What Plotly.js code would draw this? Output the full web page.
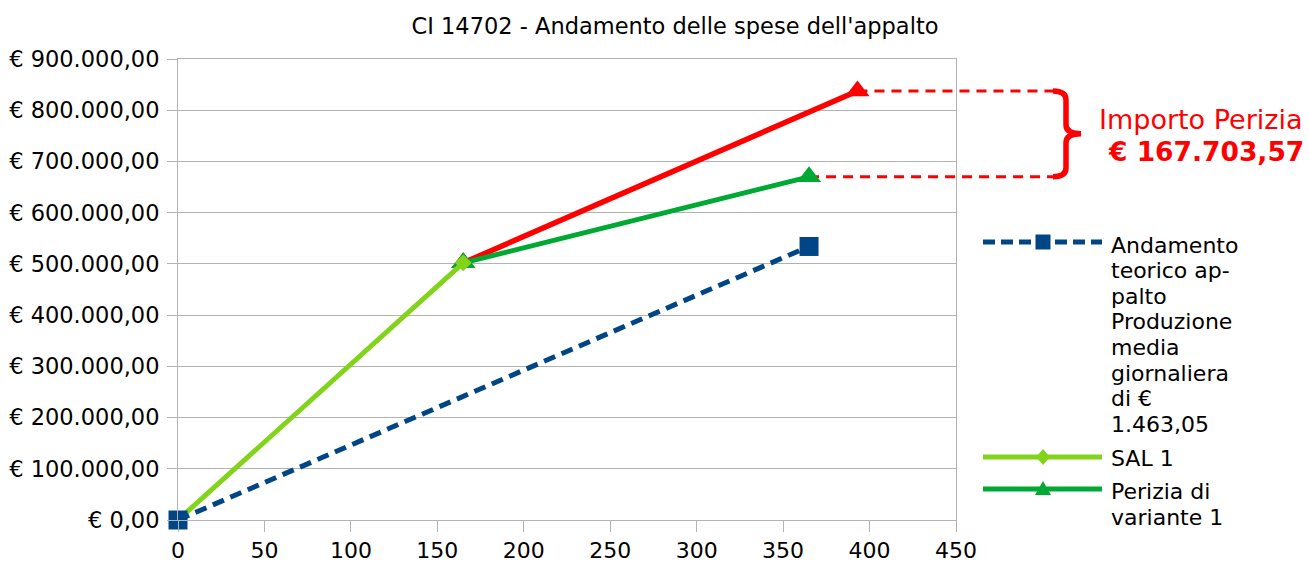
<!DOCTYPE html>
<html>
<head>
<meta charset="utf-8">
<script src="https://cdn.plot.ly/plotly-3.0.1.min.js"></script>
<style>html,body{margin:0;padding:0;background:#fff;}#chart{width:1309px;height:562px;}</style>
</head>
<body>
<div id="chart"></div>
<script>
// ---- data ----
const titolo = "CI 14702 - Andamento delle spese dell'appalto";
const giorniTeorico = [0, 365];
const speseTeorico = [0, 534013.25];
const giorniSAL = [0, 165];
const speseSAL = [0, 502000];
const giorniPerizia = [165, 365];
const spesePerizia = [502000, 670000];
const giorniImporto = [165, 393];
const speseImporto = [502000, 837703.57];
const legendaTeorico = ["Andamento", "teorico ap-", "palto", "Produzione", "media", "giornaliera", "di €", "1.463,05"];
const legendaSAL = ["SAL 1"];
const legendaPerizia = ["Perizia di", "variante 1"];
const testoImporto = "Importo Perizia";
const valoreImporto = "€ 167.703,57";

// ---- layout geometry ----
const W = 1309, H = 562;
const PL = 178, PR = 956, PT = 59, PB = 520;
const X_MAX = 450, Y_MAX = 900000;
const FONT = "DejaVu Sans, Verdana, sans-serif";
const px = v => (v - PL) / (PR - PL);
const py = v => (PB - v) / (PB - PT);
const kY = Y_MAX / (PB - PT); // data units per pixel

const BLUE = "#004586", LIME = "#81d41a", GREEN = "#00a933", RED = "#ff0000";

const traces = [
  {x: giorniImporto, y: speseImporto, mode: "lines+markers", line: {color: RED, width: 5.5},
   marker: {symbol: "triangle-up", size: 21, color: RED}, cliponaxis: false, showlegend: false, hoverinfo: "skip"},
  {x: giorniPerizia, y: spesePerizia, mode: "lines+markers", line: {color: GREEN, width: 5},
   marker: {symbol: "triangle-up", size: 21, color: GREEN}, cliponaxis: false, showlegend: false, hoverinfo: "skip"},
  {x: giorniSAL, y: speseSAL, mode: "lines+markers", line: {color: LIME, width: 5},
   marker: {symbol: "diamond", size: 13, color: LIME}, cliponaxis: false, showlegend: false, hoverinfo: "skip"},
  {x: giorniTeorico, y: speseTeorico, mode: "lines+markers", line: {color: BLUE, width: 5, dash: "12px,7px"},
   marker: {symbol: "square", size: 19, color: BLUE}, cliponaxis: false, showlegend: false, hoverinfo: "skip"}
];

const shapes = [];
const annotations = [];

// dashed guides from the two end points
[[giorniImporto[1], speseImporto[1]], [giorniPerizia[1], spesePerizia[1]]].forEach(p => {
  shapes.push({type: "line", xref: "paper", yref: "y", layer: "below",
    x0: p[0] / X_MAX, x1: px(1058), y0: p[1], y1: p[1],
    line: {color: RED, width: 3, dash: "10px,7px"}});
});

// brace
const yTop = speseImporto[1], yBot = spesePerizia[1], yMid = (yTop + yBot) / 2;
const xa = px(1053), xb = px(1066), xc = px(1081);
const d9 = 9 * kY;
shapes.push({type: "path", xref: "paper", yref: "y", layer: "above",
  path: `M${xa},${yTop} Q${xb},${yTop} ${xb},${yTop - d9} L${xb},${yMid + d9} Q${xb},${yMid} ${xc},${yMid} Q${xb},${yMid} ${xb},${yMid - d9} L${xb},${yBot + d9} Q${xb},${yBot} ${xa},${yBot}`,
  line: {color: RED, width: 5.5}});

annotations.push({xref: "paper", yref: "paper", x: px(1200.5), y: py(119), xanchor: "center", yanchor: "middle",
  text: testoImporto, showarrow: false, font: {family: FONT, size: 27, color: RED}});
annotations.push({xref: "paper", yref: "paper", x: px(1205.5), y: py(151), xanchor: "center", yanchor: "middle",
  text: "<b>" + valoreImporto + "</b>", showarrow: false, font: {family: FONT, size: 26.5, color: RED}});

// manual legend
function legendLine(yPix, color, dash) {
  shapes.push({type: "line", xref: "paper", yref: "paper", x0: px(983), x1: px(1102), y0: py(yPix), y1: py(yPix),
    line: {color: color, width: 5, dash: dash}});
}
function legendText(lines, yStart) {
  lines.forEach((t, i) => annotations.push({xref: "paper", yref: "paper", x: px(1109), y: py(yStart + i * 25.6),
    xanchor: "left", yanchor: "middle", text: t, showarrow: false, font: {family: FONT, size: 22, color: "#000"}}));
}
const cx = 1043;
legendLine(242, BLUE, "12px,6px");
shapes.push({type: "rect", xref: "paper", yref: "paper", x0: px(cx - 7.5), x1: px(cx + 7.5), y0: py(242 + 7.5), y1: py(242 - 7.5),
  fillcolor: BLUE, line: {width: 0}});
legendText(legendaTeorico, 245);

legendLine(457, LIME, "solid");
shapes.push({type: "path", xref: "paper", yref: "paper",
  path: `M${px(cx - 7)},${py(457)} L${px(cx)},${py(449)} L${px(cx + 7)},${py(457)} L${px(cx)},${py(465)} Z`,
  fillcolor: LIME, line: {width: 0}});
legendText(legendaSAL, 458);

legendLine(489, GREEN, "solid");
shapes.push({type: "path", xref: "paper", yref: "paper",
  path: `M${px(cx - 8)},${py(495)} L${px(cx + 8)},${py(495)} L${px(cx)},${py(481)} Z`,
  fillcolor: GREEN, line: {width: 0}});
legendText(legendaPerizia, 491.5);

const layout = {
  width: W, height: H,
  margin: {l: PL, r: W - PR, t: PT, b: H - PB, pad: 0},
  paper_bgcolor: "#ffffff", plot_bgcolor: "rgba(0,0,0,0)",
  separators: ",.",
  font: {family: FONT, size: 22, color: "#000"},
  title: {text: titolo, x: 675 / W, xanchor: "center", y: 1 - 26 / H, yanchor: "middle",
    font: {family: FONT, size: 22.5, color: "#000"}},
  showlegend: false,
  xaxis: {range: [0, X_MAX], dtick: 50, tick0: 0, showgrid: false, zeroline: false,
    showline: true, linecolor: "#b3b3b3", linewidth: 1, mirror: true,
    ticks: "outside", ticklen: 11, tickcolor: "#b3b3b3", tickwidth: 1,
    tickfont: {family: FONT, size: 22, color: "#000"}, fixedrange: true},
  yaxis: {range: [0, Y_MAX], dtick: 100000, tick0: 0, showgrid: true, gridcolor: "#b3b3b3", gridwidth: 1,
    zeroline: false, showline: true, linecolor: "#b3b3b3", linewidth: 1, mirror: true,
    ticks: "outside", ticklen: 10, tickcolor: "#b3b3b3", tickwidth: 1, ticklabelstandoff: 3,
    tickprefix: "€ ", tickformat: ",.2f",
    tickfont: {family: FONT, size: 22.5, color: "#000"}, fixedrange: true},
  shapes: shapes,
  annotations: annotations
};

Plotly.newPlot("chart", traces, layout, {displayModeBar: false, staticPlot: true});
</script>
</body>
</html>
